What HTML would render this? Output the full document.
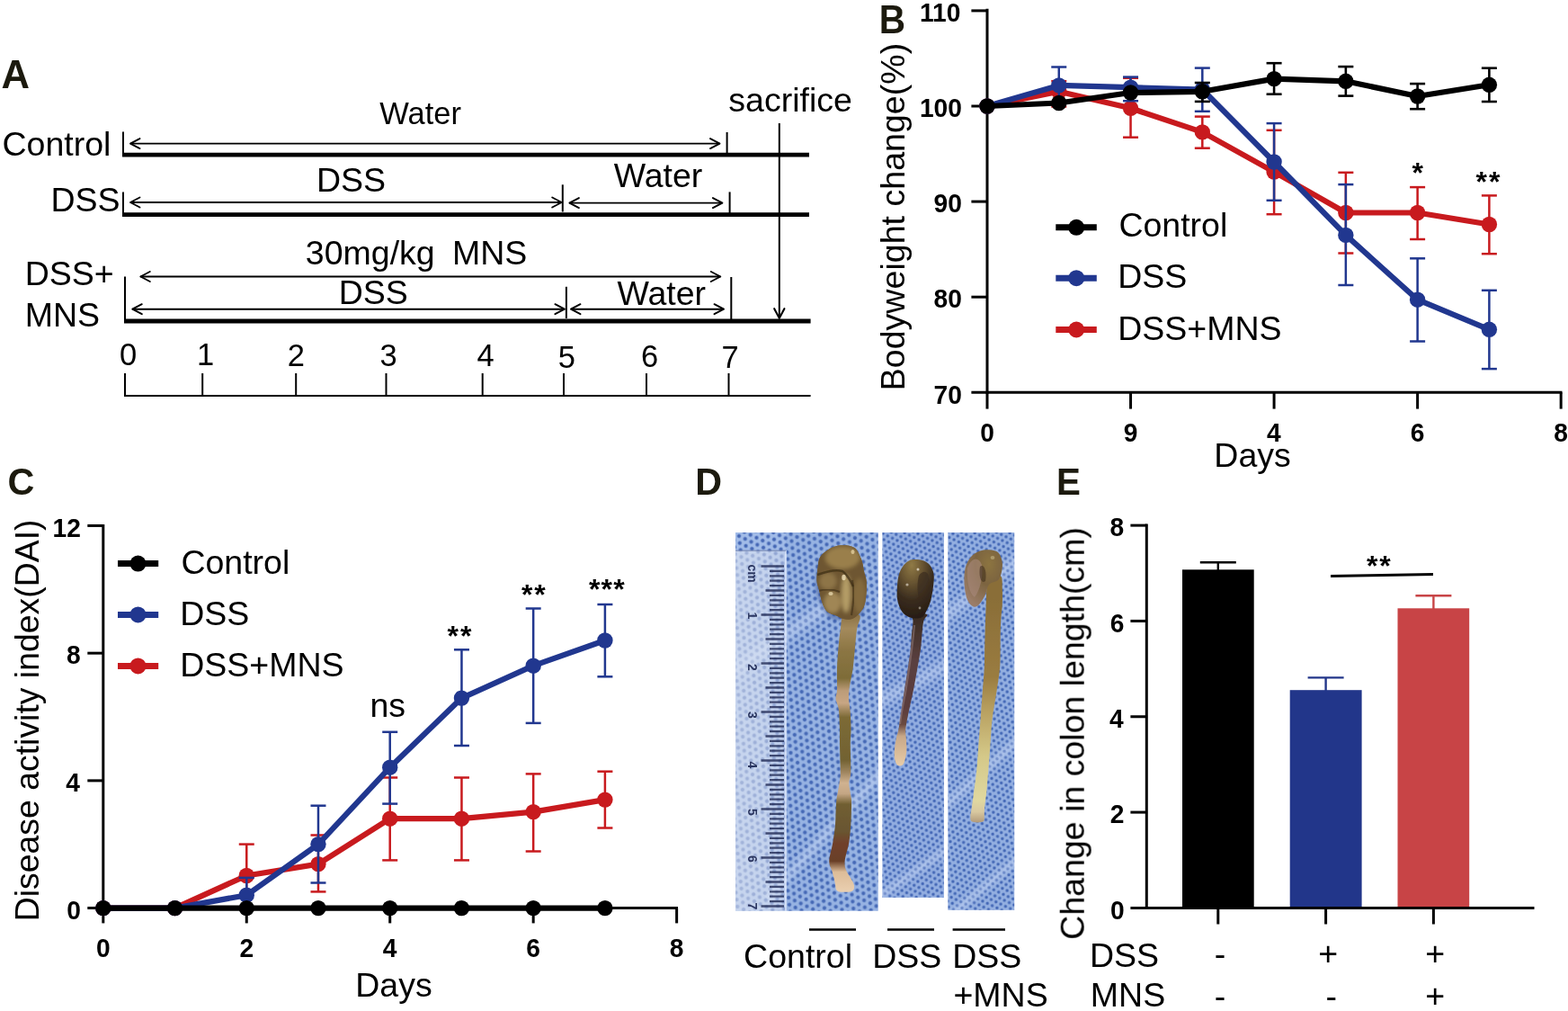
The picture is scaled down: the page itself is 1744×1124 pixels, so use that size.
<!DOCTYPE html>
<html><head><meta charset="utf-8"><title>Figure</title>
<style>html,body{margin:0;padding:0;background:#fff;}svg{display:block;}text{font-family:'Liberation Sans', Arial, sans-serif;}</style>
</head><body>
<svg width="1744" height="1124" viewBox="0 0 1744 1124">
<rect width="1744" height="1124" fill="#fff"/>
<text x="1.61" y="97.70" font-size="43.6" font-weight="bold" fill="#1c1a0e">A</text>
<text x="2.50" y="172.50" font-size="37.5" fill="#000">Control</text>
<line x1="137.00" y1="146.50" x2="137.00" y2="172.00" stroke="#000" stroke-width="2" stroke-linecap="butt"/>
<line x1="145.00" y1="159.60" x2="800.50" y2="159.60" stroke="#000" stroke-width="1.9" stroke-linecap="butt"/>
<path d="M155.50,154.10 L145.00,159.60 L155.50,165.10" stroke="#000" stroke-width="1.9" fill="none" stroke-linejoin="round" stroke-linecap="round"/>
<path d="M790.00,154.10 L800.50,159.60 L790.00,165.10" stroke="#000" stroke-width="1.9" fill="none" stroke-linejoin="round" stroke-linecap="round"/>
<line x1="808.60" y1="147.00" x2="808.60" y2="172.00" stroke="#000" stroke-width="2" stroke-linecap="butt"/>
<line x1="136.00" y1="172.20" x2="900.00" y2="172.20" stroke="#000" stroke-width="4.8" stroke-linecap="butt"/>
<text x="422.25" y="137.80" font-size="34.5" fill="#000">Water</text>
<text x="810.36" y="123.60" font-size="37.5" fill="#000">sacrifice</text>
<line x1="866.80" y1="137.00" x2="866.80" y2="353.00" stroke="#000" stroke-width="2" stroke-linecap="butt"/>
<path d="M861.2,343.2 L866.8,353.8 L872.4,343.2" stroke="#000" stroke-width="2.1" fill="none" stroke-linejoin="round" stroke-linecap="round"/>
<text x="56.52" y="235.20" font-size="37.5" fill="#000">DSS</text>
<line x1="137.00" y1="213.50" x2="137.00" y2="238.00" stroke="#000" stroke-width="2" stroke-linecap="butt"/>
<line x1="145.00" y1="225.00" x2="624.70" y2="225.00" stroke="#000" stroke-width="1.9" stroke-linecap="butt"/>
<path d="M155.50,219.50 L145.00,225.00 L155.50,230.50" stroke="#000" stroke-width="1.9" fill="none" stroke-linejoin="round" stroke-linecap="round"/>
<path d="M614.20,219.50 L624.70,225.00 L614.20,230.50" stroke="#000" stroke-width="1.9" fill="none" stroke-linejoin="round" stroke-linecap="round"/>
<line x1="625.80" y1="205.30" x2="625.80" y2="235.50" stroke="#000" stroke-width="2" stroke-linecap="butt"/>
<text x="351.92" y="212.60" font-size="37.5" fill="#000">DSS</text>
<line x1="633.40" y1="225.60" x2="803.40" y2="225.60" stroke="#000" stroke-width="1.9" stroke-linecap="butt"/>
<path d="M643.90,220.10 L633.40,225.60 L643.90,231.10" stroke="#000" stroke-width="1.9" fill="none" stroke-linejoin="round" stroke-linecap="round"/>
<path d="M792.90,220.10 L803.40,225.60 L792.90,231.10" stroke="#000" stroke-width="1.9" fill="none" stroke-linejoin="round" stroke-linecap="round"/>
<line x1="811.60" y1="213.40" x2="811.60" y2="237.00" stroke="#000" stroke-width="2" stroke-linecap="butt"/>
<text x="682.74" y="207.50" font-size="37.5" fill="#000">Water</text>
<line x1="136.00" y1="238.60" x2="900.00" y2="238.60" stroke="#000" stroke-width="4.8" stroke-linecap="butt"/>
<text x="27.72" y="317.40" font-size="37.5" fill="#000">DSS+</text>
<text x="27.72" y="362.90" font-size="37.5" fill="#000">MNS</text>
<line x1="139.00" y1="307.50" x2="139.00" y2="356.00" stroke="#000" stroke-width="2" stroke-linecap="butt"/>
<text x="339.87" y="293.50" font-size="37.5" fill="#000">30mg/kg</text>
<text x="502.92" y="294.40" font-size="37.5" fill="#000">MNS</text>
<line x1="156.30" y1="307.50" x2="801.30" y2="307.50" stroke="#000" stroke-width="1.9" stroke-linecap="butt"/>
<path d="M166.80,302.00 L156.30,307.50 L166.80,313.00" stroke="#000" stroke-width="1.9" fill="none" stroke-linejoin="round" stroke-linecap="round"/>
<path d="M790.80,302.00 L801.30,307.50 L790.80,313.00" stroke="#000" stroke-width="1.9" fill="none" stroke-linejoin="round" stroke-linecap="round"/>
<line x1="813.30" y1="308.00" x2="813.30" y2="355.00" stroke="#000" stroke-width="2" stroke-linecap="butt"/>
<line x1="147.30" y1="343.70" x2="627.90" y2="343.70" stroke="#000" stroke-width="1.9" stroke-linecap="butt"/>
<path d="M157.80,338.20 L147.30,343.70 L157.80,349.20" stroke="#000" stroke-width="1.9" fill="none" stroke-linejoin="round" stroke-linecap="round"/>
<path d="M617.40,338.20 L627.90,343.70 L617.40,349.20" stroke="#000" stroke-width="1.9" fill="none" stroke-linejoin="round" stroke-linecap="round"/>
<line x1="629.90" y1="318.80" x2="629.90" y2="354.00" stroke="#000" stroke-width="2" stroke-linecap="butt"/>
<text x="376.72" y="337.50" font-size="37.5" fill="#000">DSS</text>
<line x1="635.00" y1="343.70" x2="805.00" y2="343.70" stroke="#000" stroke-width="1.9" stroke-linecap="butt"/>
<path d="M645.50,338.20 L635.00,343.70 L645.50,349.20" stroke="#000" stroke-width="1.9" fill="none" stroke-linejoin="round" stroke-linecap="round"/>
<path d="M794.50,338.20 L805.00,343.70 L794.50,349.20" stroke="#000" stroke-width="1.9" fill="none" stroke-linejoin="round" stroke-linecap="round"/>
<text x="686.44" y="338.90" font-size="37.5" fill="#000">Water</text>
<line x1="138.00" y1="357.00" x2="901.60" y2="357.00" stroke="#000" stroke-width="4.8" stroke-linecap="butt"/>
<text x="132.95" y="405.80" font-size="34.5" fill="#000">0</text>
<text x="218.97" y="406.00" font-size="34.5" fill="#000">1</text>
<text x="319.76" y="406.50" font-size="34.5" fill="#000">2</text>
<text x="422.59" y="407.00" font-size="34.5" fill="#000">3</text>
<text x="530.41" y="407.00" font-size="34.5" fill="#000">4</text>
<text x="620.72" y="408.50" font-size="34.5" fill="#000">5</text>
<text x="712.95" y="408.00" font-size="34.5" fill="#000">6</text>
<text x="802.43" y="409.00" font-size="34.5" fill="#000">7</text>
<line x1="138.00" y1="440.00" x2="901.60" y2="440.00" stroke="#000" stroke-width="2" stroke-linecap="butt"/>
<line x1="139.00" y1="415.00" x2="139.00" y2="440.00" stroke="#000" stroke-width="2" stroke-linecap="butt"/>
<line x1="225.20" y1="415.00" x2="225.20" y2="440.00" stroke="#000" stroke-width="2" stroke-linecap="butt"/>
<line x1="329.20" y1="415.00" x2="329.20" y2="440.00" stroke="#000" stroke-width="2" stroke-linecap="butt"/>
<line x1="429.50" y1="415.00" x2="429.50" y2="440.00" stroke="#000" stroke-width="2" stroke-linecap="butt"/>
<line x1="536.70" y1="415.00" x2="536.70" y2="440.00" stroke="#000" stroke-width="2" stroke-linecap="butt"/>
<line x1="627.00" y1="415.00" x2="627.00" y2="440.00" stroke="#000" stroke-width="2" stroke-linecap="butt"/>
<line x1="719.00" y1="415.00" x2="719.00" y2="440.00" stroke="#000" stroke-width="2" stroke-linecap="butt"/>
<line x1="810.50" y1="415.00" x2="810.50" y2="440.00" stroke="#000" stroke-width="2" stroke-linecap="butt"/>
<text transform="translate(977.69,37.00) scale(0.93,1)" x="0" y="0" font-size="43.6" font-weight="bold" fill="#1c1a0e">B</text>
<line x1="1098.00" y1="9.80" x2="1098.00" y2="437.80" stroke="#000" stroke-width="3" stroke-linecap="butt"/>
<line x1="1080.40" y1="436.30" x2="1737.50" y2="436.30" stroke="#000" stroke-width="3" stroke-linecap="butt"/>
<line x1="1080.40" y1="11.90" x2="1098.00" y2="11.90" stroke="#000" stroke-width="3" stroke-linecap="butt"/>
<line x1="1080.40" y1="118.00" x2="1098.00" y2="118.00" stroke="#000" stroke-width="3" stroke-linecap="butt"/>
<line x1="1080.40" y1="224.10" x2="1098.00" y2="224.10" stroke="#000" stroke-width="3" stroke-linecap="butt"/>
<line x1="1080.40" y1="330.20" x2="1098.00" y2="330.20" stroke="#000" stroke-width="3" stroke-linecap="butt"/>
<line x1="1098.00" y1="436.30" x2="1098.00" y2="454.60" stroke="#000" stroke-width="3" stroke-linecap="butt"/>
<line x1="1257.54" y1="436.30" x2="1257.54" y2="454.60" stroke="#000" stroke-width="3" stroke-linecap="butt"/>
<line x1="1417.08" y1="436.30" x2="1417.08" y2="454.60" stroke="#000" stroke-width="3" stroke-linecap="butt"/>
<line x1="1576.62" y1="436.30" x2="1576.62" y2="454.60" stroke="#000" stroke-width="3" stroke-linecap="butt"/>
<line x1="1736.16" y1="436.30" x2="1736.16" y2="454.60" stroke="#000" stroke-width="3" stroke-linecap="butt"/>
<text transform="translate(1022.95,24.10) scale(0.955,1)" x="0" y="0" font-size="29.5" font-weight="bold" fill="#000">110</text>
<text transform="translate(1022.95,130.20) scale(0.955,1)" x="0" y="0" font-size="29.5" font-weight="bold" fill="#000">100</text>
<text transform="translate(1038.62,236.30) scale(0.955,1)" x="0" y="0" font-size="29.5" font-weight="bold" fill="#000">90</text>
<text transform="translate(1038.62,342.40) scale(0.955,1)" x="0" y="0" font-size="29.5" font-weight="bold" fill="#000">80</text>
<text transform="translate(1038.62,448.50) scale(0.955,1)" x="0" y="0" font-size="29.5" font-weight="bold" fill="#000">70</text>
<text transform="translate(1090.19,490.50) scale(0.955,1)" x="0" y="0" font-size="29.5" font-weight="bold" fill="#000">0</text>
<text transform="translate(1249.74,490.50) scale(0.955,1)" x="0" y="0" font-size="29.5" font-weight="bold" fill="#000">9</text>
<text transform="translate(1409.11,490.50) scale(0.955,1)" x="0" y="0" font-size="29.5" font-weight="bold" fill="#000">4</text>
<text transform="translate(1568.78,490.50) scale(0.955,1)" x="0" y="0" font-size="29.5" font-weight="bold" fill="#000">6</text>
<text transform="translate(1728.31,490.50) scale(0.955,1)" x="0" y="0" font-size="29.5" font-weight="bold" fill="#000">8</text>
<text x="1350.32" y="518.50" font-size="37.5" fill="#000">Days</text>
<text transform="translate(1006.20,431.20) rotate(-90)" x="-3.08" y="0" font-size="37.6" fill="#000">Bodyweight change(%)</text>
<line x1="1177.77" y1="90.20" x2="1177.77" y2="118.50" stroke="#c81a1e" stroke-width="2.5" stroke-linecap="butt"/>
<line x1="1169.27" y1="90.20" x2="1186.27" y2="90.20" stroke="#c81a1e" stroke-width="2.5" stroke-linecap="butt"/>
<line x1="1169.27" y1="118.50" x2="1186.27" y2="118.50" stroke="#c81a1e" stroke-width="2.5" stroke-linecap="butt"/>
<line x1="1257.54" y1="86.80" x2="1257.54" y2="152.70" stroke="#c81a1e" stroke-width="2.5" stroke-linecap="butt"/>
<line x1="1249.04" y1="86.80" x2="1266.04" y2="86.80" stroke="#c81a1e" stroke-width="2.5" stroke-linecap="butt"/>
<line x1="1249.04" y1="152.70" x2="1266.04" y2="152.70" stroke="#c81a1e" stroke-width="2.5" stroke-linecap="butt"/>
<line x1="1337.31" y1="129.60" x2="1337.31" y2="164.70" stroke="#c81a1e" stroke-width="2.5" stroke-linecap="butt"/>
<line x1="1328.81" y1="129.60" x2="1345.81" y2="129.60" stroke="#c81a1e" stroke-width="2.5" stroke-linecap="butt"/>
<line x1="1328.81" y1="164.70" x2="1345.81" y2="164.70" stroke="#c81a1e" stroke-width="2.5" stroke-linecap="butt"/>
<line x1="1417.08" y1="144.80" x2="1417.08" y2="238.20" stroke="#c81a1e" stroke-width="2.5" stroke-linecap="butt"/>
<line x1="1408.58" y1="144.80" x2="1425.58" y2="144.80" stroke="#c81a1e" stroke-width="2.5" stroke-linecap="butt"/>
<line x1="1408.58" y1="238.20" x2="1425.58" y2="238.20" stroke="#c81a1e" stroke-width="2.5" stroke-linecap="butt"/>
<line x1="1496.85" y1="191.80" x2="1496.85" y2="281.50" stroke="#c81a1e" stroke-width="2.5" stroke-linecap="butt"/>
<line x1="1488.35" y1="191.80" x2="1505.35" y2="191.80" stroke="#c81a1e" stroke-width="2.5" stroke-linecap="butt"/>
<line x1="1488.35" y1="281.50" x2="1505.35" y2="281.50" stroke="#c81a1e" stroke-width="2.5" stroke-linecap="butt"/>
<line x1="1576.62" y1="208.10" x2="1576.62" y2="266.00" stroke="#c81a1e" stroke-width="2.5" stroke-linecap="butt"/>
<line x1="1568.12" y1="208.10" x2="1585.12" y2="208.10" stroke="#c81a1e" stroke-width="2.5" stroke-linecap="butt"/>
<line x1="1568.12" y1="266.00" x2="1585.12" y2="266.00" stroke="#c81a1e" stroke-width="2.5" stroke-linecap="butt"/>
<line x1="1656.39" y1="217.40" x2="1656.39" y2="282.20" stroke="#c81a1e" stroke-width="2.5" stroke-linecap="butt"/>
<line x1="1647.89" y1="217.40" x2="1664.89" y2="217.40" stroke="#c81a1e" stroke-width="2.5" stroke-linecap="butt"/>
<line x1="1647.89" y1="282.20" x2="1664.89" y2="282.20" stroke="#c81a1e" stroke-width="2.5" stroke-linecap="butt"/>
<path d="M1098.00,118.00 L1177.77,101.80 L1257.54,120.30 L1337.31,146.90 L1417.08,191.10 L1496.85,236.50 L1576.62,236.50 L1656.39,249.50" stroke="#c81a1e" stroke-width="6.2" fill="none" stroke-linejoin="round"/>
<circle cx="1098.00" cy="118.00" r="8.7" fill="#c81a1e"/>
<circle cx="1177.77" cy="101.80" r="8.7" fill="#c81a1e"/>
<circle cx="1257.54" cy="120.30" r="8.7" fill="#c81a1e"/>
<circle cx="1337.31" cy="146.90" r="8.7" fill="#c81a1e"/>
<circle cx="1417.08" cy="191.10" r="8.7" fill="#c81a1e"/>
<circle cx="1496.85" cy="236.50" r="8.7" fill="#c81a1e"/>
<circle cx="1576.62" cy="236.50" r="8.7" fill="#c81a1e"/>
<circle cx="1656.39" cy="249.50" r="8.7" fill="#c81a1e"/>
<line x1="1177.77" y1="74.50" x2="1177.77" y2="115.00" stroke="#21378f" stroke-width="2.5" stroke-linecap="butt"/>
<line x1="1169.27" y1="74.50" x2="1186.27" y2="74.50" stroke="#21378f" stroke-width="2.5" stroke-linecap="butt"/>
<line x1="1169.27" y1="115.00" x2="1186.27" y2="115.00" stroke="#21378f" stroke-width="2.5" stroke-linecap="butt"/>
<line x1="1257.54" y1="85.60" x2="1257.54" y2="112.20" stroke="#21378f" stroke-width="2.5" stroke-linecap="butt"/>
<line x1="1249.04" y1="85.60" x2="1266.04" y2="85.60" stroke="#21378f" stroke-width="2.5" stroke-linecap="butt"/>
<line x1="1249.04" y1="112.20" x2="1266.04" y2="112.20" stroke="#21378f" stroke-width="2.5" stroke-linecap="butt"/>
<line x1="1337.31" y1="75.60" x2="1337.31" y2="123.80" stroke="#21378f" stroke-width="2.5" stroke-linecap="butt"/>
<line x1="1328.81" y1="75.60" x2="1345.81" y2="75.60" stroke="#21378f" stroke-width="2.5" stroke-linecap="butt"/>
<line x1="1328.81" y1="123.80" x2="1345.81" y2="123.80" stroke="#21378f" stroke-width="2.5" stroke-linecap="butt"/>
<line x1="1417.08" y1="137.10" x2="1417.08" y2="222.80" stroke="#21378f" stroke-width="2.5" stroke-linecap="butt"/>
<line x1="1408.58" y1="137.10" x2="1425.58" y2="137.10" stroke="#21378f" stroke-width="2.5" stroke-linecap="butt"/>
<line x1="1408.58" y1="222.80" x2="1425.58" y2="222.80" stroke="#21378f" stroke-width="2.5" stroke-linecap="butt"/>
<line x1="1496.85" y1="205.10" x2="1496.85" y2="317.00" stroke="#21378f" stroke-width="2.5" stroke-linecap="butt"/>
<line x1="1488.35" y1="205.10" x2="1505.35" y2="205.10" stroke="#21378f" stroke-width="2.5" stroke-linecap="butt"/>
<line x1="1488.35" y1="317.00" x2="1505.35" y2="317.00" stroke="#21378f" stroke-width="2.5" stroke-linecap="butt"/>
<line x1="1576.62" y1="287.30" x2="1576.62" y2="379.50" stroke="#21378f" stroke-width="2.5" stroke-linecap="butt"/>
<line x1="1568.12" y1="287.30" x2="1585.12" y2="287.30" stroke="#21378f" stroke-width="2.5" stroke-linecap="butt"/>
<line x1="1568.12" y1="379.50" x2="1585.12" y2="379.50" stroke="#21378f" stroke-width="2.5" stroke-linecap="butt"/>
<line x1="1656.39" y1="322.80" x2="1656.39" y2="410.10" stroke="#21378f" stroke-width="2.5" stroke-linecap="butt"/>
<line x1="1647.89" y1="322.80" x2="1664.89" y2="322.80" stroke="#21378f" stroke-width="2.5" stroke-linecap="butt"/>
<line x1="1647.89" y1="410.10" x2="1664.89" y2="410.10" stroke="#21378f" stroke-width="2.5" stroke-linecap="butt"/>
<path d="M1098.00,118.00 L1177.77,94.90 L1257.54,97.20 L1337.31,99.50 L1417.08,180.00 L1496.85,261.40 L1576.62,333.20 L1656.39,366.30" stroke="#21378f" stroke-width="6.2" fill="none" stroke-linejoin="round"/>
<circle cx="1098.00" cy="118.00" r="8.7" fill="#21378f"/>
<circle cx="1177.77" cy="94.90" r="8.7" fill="#21378f"/>
<circle cx="1257.54" cy="97.20" r="8.7" fill="#21378f"/>
<circle cx="1337.31" cy="99.50" r="8.7" fill="#21378f"/>
<circle cx="1417.08" cy="180.00" r="8.7" fill="#21378f"/>
<circle cx="1496.85" cy="261.40" r="8.7" fill="#21378f"/>
<circle cx="1576.62" cy="333.20" r="8.7" fill="#21378f"/>
<circle cx="1656.39" cy="366.30" r="8.7" fill="#21378f"/>
<line x1="1337.31" y1="92.00" x2="1337.31" y2="112.90" stroke="#000" stroke-width="2.6" stroke-linecap="butt"/>
<line x1="1328.81" y1="92.00" x2="1345.81" y2="92.00" stroke="#000" stroke-width="2.6" stroke-linecap="butt"/>
<line x1="1328.81" y1="112.90" x2="1345.81" y2="112.90" stroke="#000" stroke-width="2.6" stroke-linecap="butt"/>
<line x1="1417.08" y1="70.20" x2="1417.08" y2="104.70" stroke="#000" stroke-width="2.6" stroke-linecap="butt"/>
<line x1="1408.58" y1="70.20" x2="1425.58" y2="70.20" stroke="#000" stroke-width="2.6" stroke-linecap="butt"/>
<line x1="1408.58" y1="104.70" x2="1425.58" y2="104.70" stroke="#000" stroke-width="2.6" stroke-linecap="butt"/>
<line x1="1496.85" y1="74.10" x2="1496.85" y2="106.60" stroke="#000" stroke-width="2.6" stroke-linecap="butt"/>
<line x1="1488.35" y1="74.10" x2="1505.35" y2="74.10" stroke="#000" stroke-width="2.6" stroke-linecap="butt"/>
<line x1="1488.35" y1="106.60" x2="1505.35" y2="106.60" stroke="#000" stroke-width="2.6" stroke-linecap="butt"/>
<line x1="1576.62" y1="93.10" x2="1576.62" y2="121.20" stroke="#000" stroke-width="2.6" stroke-linecap="butt"/>
<line x1="1568.12" y1="93.10" x2="1585.12" y2="93.10" stroke="#000" stroke-width="2.6" stroke-linecap="butt"/>
<line x1="1568.12" y1="121.20" x2="1585.12" y2="121.20" stroke="#000" stroke-width="2.6" stroke-linecap="butt"/>
<line x1="1656.39" y1="75.70" x2="1656.39" y2="113.00" stroke="#000" stroke-width="2.6" stroke-linecap="butt"/>
<line x1="1647.89" y1="75.70" x2="1664.89" y2="75.70" stroke="#000" stroke-width="2.6" stroke-linecap="butt"/>
<line x1="1647.89" y1="113.00" x2="1664.89" y2="113.00" stroke="#000" stroke-width="2.6" stroke-linecap="butt"/>
<path d="M1098.00,118.00 L1177.77,114.50 L1257.54,103.00 L1337.31,101.80 L1417.08,87.60 L1496.85,90.30 L1576.62,107.00 L1656.39,94.30" stroke="#000" stroke-width="6.2" fill="none" stroke-linejoin="round"/>
<circle cx="1098.00" cy="118.00" r="8.7" fill="#000"/>
<circle cx="1177.77" cy="114.50" r="8.7" fill="#000"/>
<circle cx="1257.54" cy="103.00" r="8.7" fill="#000"/>
<circle cx="1337.31" cy="101.80" r="8.7" fill="#000"/>
<circle cx="1417.08" cy="87.60" r="8.7" fill="#000"/>
<circle cx="1496.85" cy="90.30" r="8.7" fill="#000"/>
<circle cx="1576.62" cy="107.00" r="8.7" fill="#000"/>
<circle cx="1656.39" cy="94.30" r="8.7" fill="#000"/>
<line x1="1174.30" y1="252.80" x2="1219.80" y2="252.80" stroke="#000" stroke-width="7" stroke-linecap="butt"/>
<circle cx="1197.20" cy="252.80" r="9" fill="#000"/>
<text x="1244.40" y="263.10" font-size="37.5" fill="#000">Control</text>
<line x1="1174.30" y1="309.20" x2="1219.80" y2="309.20" stroke="#21378f" stroke-width="7" stroke-linecap="butt"/>
<circle cx="1197.20" cy="309.20" r="9" fill="#21378f"/>
<text x="1243.22" y="320.40" font-size="37.5" fill="#000">DSS</text>
<line x1="1174.30" y1="366.50" x2="1219.80" y2="366.50" stroke="#c81a1e" stroke-width="7" stroke-linecap="butt"/>
<circle cx="1197.20" cy="366.50" r="9" fill="#c81a1e"/>
<text x="1243.22" y="377.60" font-size="37.5" fill="#000">DSS+MNS</text>
<text x="1570.44" y="202.70" font-size="32" font-weight="bold" fill="#000">*</text>
<text x="1641.52" y="213.00" font-size="32" font-weight="bold" fill="#000" letter-spacing="2">**</text>
<text transform="translate(8.60,549.60) scale(0.98,1)" x="0" y="0" font-size="42.2" font-weight="bold" fill="#1c1a0e">C</text>
<line x1="114.80" y1="583.00" x2="114.80" y2="1011.00" stroke="#000" stroke-width="3" stroke-linecap="butt"/>
<line x1="97.30" y1="1009.60" x2="754.00" y2="1009.60" stroke="#000" stroke-width="3" stroke-linecap="butt"/>
<line x1="97.30" y1="584.44" x2="114.80" y2="584.44" stroke="#000" stroke-width="3" stroke-linecap="butt"/>
<line x1="97.30" y1="726.16" x2="114.80" y2="726.16" stroke="#000" stroke-width="3" stroke-linecap="butt"/>
<line x1="97.30" y1="867.88" x2="114.80" y2="867.88" stroke="#000" stroke-width="3" stroke-linecap="butt"/>
<line x1="114.80" y1="1009.60" x2="114.80" y2="1026.40" stroke="#000" stroke-width="3" stroke-linecap="butt"/>
<line x1="274.26" y1="1009.60" x2="274.26" y2="1026.40" stroke="#000" stroke-width="3" stroke-linecap="butt"/>
<line x1="433.72" y1="1009.60" x2="433.72" y2="1026.40" stroke="#000" stroke-width="3" stroke-linecap="butt"/>
<line x1="593.18" y1="1009.60" x2="593.18" y2="1026.40" stroke="#000" stroke-width="3" stroke-linecap="butt"/>
<line x1="752.64" y1="1009.60" x2="752.64" y2="1026.40" stroke="#000" stroke-width="3" stroke-linecap="butt"/>
<text transform="translate(58.59,596.64) scale(0.955,1)" x="0" y="0" font-size="29.5" font-weight="bold" fill="#000">12</text>
<text transform="translate(74.00,738.36) scale(0.955,1)" x="0" y="0" font-size="29.5" font-weight="bold" fill="#000">8</text>
<text transform="translate(73.28,880.08) scale(0.955,1)" x="0" y="0" font-size="29.5" font-weight="bold" fill="#000">4</text>
<text transform="translate(74.29,1021.80) scale(0.955,1)" x="0" y="0" font-size="29.5" font-weight="bold" fill="#000">0</text>
<text transform="translate(106.99,1063.50) scale(0.955,1)" x="0" y="0" font-size="29.5" font-weight="bold" fill="#000">0</text>
<text transform="translate(266.50,1063.50) scale(0.955,1)" x="0" y="0" font-size="29.5" font-weight="bold" fill="#000">2</text>
<text transform="translate(425.75,1063.50) scale(0.955,1)" x="0" y="0" font-size="29.5" font-weight="bold" fill="#000">4</text>
<text transform="translate(585.34,1063.50) scale(0.955,1)" x="0" y="0" font-size="29.5" font-weight="bold" fill="#000">6</text>
<text transform="translate(744.79,1063.50) scale(0.955,1)" x="0" y="0" font-size="29.5" font-weight="bold" fill="#000">8</text>
<text x="395.22" y="1108.00" font-size="37.5" fill="#000">Days</text>
<text transform="translate(43.00,1021.20) rotate(-90)" x="-3.07" y="0" font-size="37.4" fill="#000">Disease activity index(DAI)</text>
<line x1="274.26" y1="938.60" x2="274.26" y2="1009.60" stroke="#c81a1e" stroke-width="2.5" stroke-linecap="butt"/>
<line x1="265.76" y1="938.60" x2="282.76" y2="938.60" stroke="#c81a1e" stroke-width="2.5" stroke-linecap="butt"/>
<line x1="265.76" y1="1009.60" x2="282.76" y2="1009.60" stroke="#c81a1e" stroke-width="2.5" stroke-linecap="butt"/>
<line x1="353.99" y1="928.50" x2="353.99" y2="991.40" stroke="#c81a1e" stroke-width="2.5" stroke-linecap="butt"/>
<line x1="345.49" y1="928.50" x2="362.49" y2="928.50" stroke="#c81a1e" stroke-width="2.5" stroke-linecap="butt"/>
<line x1="345.49" y1="991.40" x2="362.49" y2="991.40" stroke="#c81a1e" stroke-width="2.5" stroke-linecap="butt"/>
<line x1="433.72" y1="864.50" x2="433.72" y2="956.40" stroke="#c81a1e" stroke-width="2.5" stroke-linecap="butt"/>
<line x1="425.22" y1="864.50" x2="442.22" y2="864.50" stroke="#c81a1e" stroke-width="2.5" stroke-linecap="butt"/>
<line x1="425.22" y1="956.40" x2="442.22" y2="956.40" stroke="#c81a1e" stroke-width="2.5" stroke-linecap="butt"/>
<line x1="513.45" y1="864.50" x2="513.45" y2="956.40" stroke="#c81a1e" stroke-width="2.5" stroke-linecap="butt"/>
<line x1="504.95" y1="864.50" x2="521.95" y2="864.50" stroke="#c81a1e" stroke-width="2.5" stroke-linecap="butt"/>
<line x1="504.95" y1="956.40" x2="521.95" y2="956.40" stroke="#c81a1e" stroke-width="2.5" stroke-linecap="butt"/>
<line x1="593.18" y1="860.40" x2="593.18" y2="946.50" stroke="#c81a1e" stroke-width="2.5" stroke-linecap="butt"/>
<line x1="584.68" y1="860.40" x2="601.68" y2="860.40" stroke="#c81a1e" stroke-width="2.5" stroke-linecap="butt"/>
<line x1="584.68" y1="946.50" x2="601.68" y2="946.50" stroke="#c81a1e" stroke-width="2.5" stroke-linecap="butt"/>
<line x1="672.91" y1="857.70" x2="672.91" y2="920.50" stroke="#c81a1e" stroke-width="2.5" stroke-linecap="butt"/>
<line x1="664.41" y1="857.70" x2="681.41" y2="857.70" stroke="#c81a1e" stroke-width="2.5" stroke-linecap="butt"/>
<line x1="664.41" y1="920.50" x2="681.41" y2="920.50" stroke="#c81a1e" stroke-width="2.5" stroke-linecap="butt"/>
<path d="M114.80,1009.60 L194.53,1009.60 L274.26,973.50 L353.99,960.60 L433.72,910.20 L513.45,910.20 L593.18,902.60 L672.91,889.10" stroke="#c81a1e" stroke-width="6.2" fill="none" stroke-linejoin="round"/>
<circle cx="114.80" cy="1009.60" r="8.7" fill="#c81a1e"/>
<circle cx="194.53" cy="1009.60" r="8.7" fill="#c81a1e"/>
<circle cx="274.26" cy="973.50" r="8.7" fill="#c81a1e"/>
<circle cx="353.99" cy="960.60" r="8.7" fill="#c81a1e"/>
<circle cx="433.72" cy="910.20" r="8.7" fill="#c81a1e"/>
<circle cx="513.45" cy="910.20" r="8.7" fill="#c81a1e"/>
<circle cx="593.18" cy="902.60" r="8.7" fill="#c81a1e"/>
<circle cx="672.91" cy="889.10" r="8.7" fill="#c81a1e"/>
<line x1="274.26" y1="975.90" x2="274.26" y2="1009.60" stroke="#21378f" stroke-width="2.5" stroke-linecap="butt"/>
<line x1="265.76" y1="975.90" x2="282.76" y2="975.90" stroke="#21378f" stroke-width="2.5" stroke-linecap="butt"/>
<line x1="265.76" y1="1009.60" x2="282.76" y2="1009.60" stroke="#21378f" stroke-width="2.5" stroke-linecap="butt"/>
<line x1="353.99" y1="895.70" x2="353.99" y2="981.50" stroke="#21378f" stroke-width="2.5" stroke-linecap="butt"/>
<line x1="345.49" y1="895.70" x2="362.49" y2="895.70" stroke="#21378f" stroke-width="2.5" stroke-linecap="butt"/>
<line x1="345.49" y1="981.50" x2="362.49" y2="981.50" stroke="#21378f" stroke-width="2.5" stroke-linecap="butt"/>
<line x1="433.72" y1="813.80" x2="433.72" y2="893.60" stroke="#21378f" stroke-width="2.5" stroke-linecap="butt"/>
<line x1="425.22" y1="813.80" x2="442.22" y2="813.80" stroke="#21378f" stroke-width="2.5" stroke-linecap="butt"/>
<line x1="425.22" y1="893.60" x2="442.22" y2="893.60" stroke="#21378f" stroke-width="2.5" stroke-linecap="butt"/>
<line x1="513.45" y1="722.30" x2="513.45" y2="829.00" stroke="#21378f" stroke-width="2.5" stroke-linecap="butt"/>
<line x1="504.95" y1="722.30" x2="521.95" y2="722.30" stroke="#21378f" stroke-width="2.5" stroke-linecap="butt"/>
<line x1="504.95" y1="829.00" x2="521.95" y2="829.00" stroke="#21378f" stroke-width="2.5" stroke-linecap="butt"/>
<line x1="593.18" y1="676.50" x2="593.18" y2="803.90" stroke="#21378f" stroke-width="2.5" stroke-linecap="butt"/>
<line x1="584.68" y1="676.50" x2="601.68" y2="676.50" stroke="#21378f" stroke-width="2.5" stroke-linecap="butt"/>
<line x1="584.68" y1="803.90" x2="601.68" y2="803.90" stroke="#21378f" stroke-width="2.5" stroke-linecap="butt"/>
<line x1="672.91" y1="672.00" x2="672.91" y2="752.30" stroke="#21378f" stroke-width="2.5" stroke-linecap="butt"/>
<line x1="664.41" y1="672.00" x2="681.41" y2="672.00" stroke="#21378f" stroke-width="2.5" stroke-linecap="butt"/>
<line x1="664.41" y1="752.30" x2="681.41" y2="752.30" stroke="#21378f" stroke-width="2.5" stroke-linecap="butt"/>
<path d="M114.80,1009.60 L194.53,1009.60 L274.26,995.20 L353.99,938.60 L433.72,853.20 L513.45,776.10 L593.18,740.20 L672.91,712.00" stroke="#21378f" stroke-width="6.2" fill="none" stroke-linejoin="round"/>
<circle cx="114.80" cy="1009.60" r="8.7" fill="#21378f"/>
<circle cx="194.53" cy="1009.60" r="8.7" fill="#21378f"/>
<circle cx="274.26" cy="995.20" r="8.7" fill="#21378f"/>
<circle cx="353.99" cy="938.60" r="8.7" fill="#21378f"/>
<circle cx="433.72" cy="853.20" r="8.7" fill="#21378f"/>
<circle cx="513.45" cy="776.10" r="8.7" fill="#21378f"/>
<circle cx="593.18" cy="740.20" r="8.7" fill="#21378f"/>
<circle cx="672.91" cy="712.00" r="8.7" fill="#21378f"/>
<path d="M114.80,1009.60 L194.53,1009.60 L274.26,1009.60 L353.99,1009.60 L433.72,1009.60 L513.45,1009.60 L593.18,1009.60 L672.91,1009.60" stroke="#000" stroke-width="6.4" fill="none" stroke-linejoin="round"/>
<circle cx="114.80" cy="1009.60" r="8.7" fill="#000"/>
<circle cx="194.53" cy="1009.60" r="8.7" fill="#000"/>
<circle cx="274.26" cy="1009.60" r="8.7" fill="#000"/>
<circle cx="353.99" cy="1009.60" r="8.7" fill="#000"/>
<circle cx="433.72" cy="1009.60" r="8.7" fill="#000"/>
<circle cx="513.45" cy="1009.60" r="8.7" fill="#000"/>
<circle cx="593.18" cy="1009.60" r="8.7" fill="#000"/>
<circle cx="672.91" cy="1009.60" r="8.7" fill="#000"/>
<line x1="131.00" y1="626.60" x2="176.20" y2="626.60" stroke="#000" stroke-width="7" stroke-linecap="butt"/>
<circle cx="153.50" cy="626.60" r="9" fill="#000"/>
<text x="201.40" y="637.70" font-size="37.5" fill="#000">Control</text>
<line x1="131.00" y1="683.40" x2="176.20" y2="683.40" stroke="#21378f" stroke-width="7" stroke-linecap="butt"/>
<circle cx="153.50" cy="683.40" r="9" fill="#21378f"/>
<text x="200.22" y="694.50" font-size="37.5" fill="#000">DSS</text>
<line x1="131.00" y1="740.40" x2="176.20" y2="740.40" stroke="#c81a1e" stroke-width="7" stroke-linecap="butt"/>
<circle cx="153.50" cy="740.40" r="9" fill="#c81a1e"/>
<text x="200.22" y="751.70" font-size="37.5" fill="#000">DSS+MNS</text>
<text x="411.51" y="797.20" font-size="37.5" fill="#000">ns</text>
<text x="497.62" y="717.60" font-size="32" font-weight="bold" fill="#000" letter-spacing="2">**</text>
<text x="579.92" y="671.90" font-size="32" font-weight="bold" fill="#000" letter-spacing="2">**</text>
<text x="654.89" y="666.00" font-size="32" font-weight="bold" fill="#000" letter-spacing="1.2">***</text>
<text transform="translate(773.24,549.80) scale(0.96,1)" x="0" y="0" font-size="43" font-weight="bold" fill="#1c1a0e">D</text>
<defs>
<pattern id="fab" width="12.8" height="7.8" patternUnits="userSpaceOnUse" patternTransform="rotate(-6)">
<rect width="12.8" height="7.8" fill="#a2bce8"/>
<circle cx="0" cy="0" r="3.0" fill="url(#dot)"/><circle cx="12.8" cy="0" r="3.0" fill="url(#dot)"/>
<circle cx="0" cy="7.8" r="3.0" fill="url(#dot)"/><circle cx="12.8" cy="7.8" r="3.0" fill="url(#dot)"/>
<circle cx="6.4" cy="3.9" r="3.0" fill="url(#dot)"/>
</pattern>
<pattern id="fab2" width="9.6" height="6.8" patternUnits="userSpaceOnUse" patternTransform="rotate(-10)">
<rect width="9.6" height="6.8" fill="#a8c0ea"/>
<circle cx="0" cy="0" r="2.4" fill="url(#dot)"/><circle cx="9.6" cy="0" r="2.4" fill="url(#dot)"/>
<circle cx="0" cy="6.8" r="2.4" fill="url(#dot)"/><circle cx="9.6" cy="6.8" r="2.4" fill="url(#dot)"/>
<circle cx="4.8" cy="3.4" r="2.4" fill="url(#dot)"/>
</pattern>
<radialGradient id="dot"><stop offset="0" stop-color="#3c5eb0"/><stop offset="0.5" stop-color="#4e70ba"/><stop offset="1" stop-color="#7090d0" stop-opacity="0"/></radialGradient>
<filter id="pblur" x="0" y="0" width="100%" height="100%"><feGaussianBlur stdDeviation="0.55"/></filter>
<linearGradient id="fold" x1="0" y1="0" x2="1" y2="0"><stop offset="0" stop-color="#dfeaff" stop-opacity="0"/><stop offset="0.5" stop-color="#dfeaff" stop-opacity="0.45"/><stop offset="1" stop-color="#dfeaff" stop-opacity="0"/></linearGradient>
<filter id="soft" x="-20%" y="-20%" width="140%" height="140%"><feGaussianBlur stdDeviation="0.7"/></filter>
<filter id="soft2" x="-30%" y="-30%" width="160%" height="160%"><feGaussianBlur stdDeviation="1.6"/></filter>
<filter id="soft3" x="-30%" y="-30%" width="160%" height="160%"><feGaussianBlur stdDeviation="2.2"/></filter>
<clipPath id="cp1"><rect x="818" y="592" width="158.7" height="420.7"/></clipPath>
<clipPath id="cp2"><rect x="981.4" y="592" width="68.5" height="405.9"/></clipPath>
<clipPath id="cp3"><rect x="1054.4" y="592" width="73.8" height="419.8"/></clipPath>
<linearGradient id="c1g" x1="0" y1="600" x2="0" y2="995" gradientUnits="userSpaceOnUse">
<stop offset="0" stop-color="#8a7040"/><stop offset="0.21" stop-color="#8a7044"/>
<stop offset="0.25" stop-color="#a48a5c"/><stop offset="0.31" stop-color="#8c7644"/><stop offset="0.39" stop-color="#7e6c38"/>
<stop offset="0.425" stop-color="#bc9c78"/><stop offset="0.46" stop-color="#c8a684"/>
<stop offset="0.5" stop-color="#7c6a36"/><stop offset="0.62" stop-color="#726232"/>
<stop offset="0.655" stop-color="#a08660"/><stop offset="0.685" stop-color="#d0b290"/>
<stop offset="0.715" stop-color="#c4a684"/><stop offset="0.745" stop-color="#705e30"/>
<stop offset="0.82" stop-color="#6a5630"/><stop offset="0.855" stop-color="#70402c"/>
<stop offset="0.905" stop-color="#6a4028"/><stop offset="0.935" stop-color="#dcbc98"/>
<stop offset="1" stop-color="#ecd2b4"/></linearGradient>
<radialGradient id="h1g" cx="0.55" cy="0.4" r="0.65"><stop offset="0" stop-color="#9a8250"/><stop offset="0.7" stop-color="#876e42"/><stop offset="1" stop-color="#6c5632"/></radialGradient>
<linearGradient id="c2g" x1="0" y1="685" x2="0" y2="852" gradientUnits="userSpaceOnUse">
<stop offset="0" stop-color="#3a2c22"/><stop offset="0.3" stop-color="#5a4040"/>
<stop offset="0.6" stop-color="#5a3c3c"/><stop offset="0.72" stop-color="#6a4a40"/>
<stop offset="0.8" stop-color="#c8a888"/><stop offset="1" stop-color="#e8cca8"/></linearGradient>
<radialGradient id="h2g" cx="0.4" cy="0.1" r="0.95"><stop offset="0" stop-color="#907a46"/><stop offset="0.3" stop-color="#6a5632"/><stop offset="0.62" stop-color="#3a2c1e"/><stop offset="1" stop-color="#241a12"/></radialGradient>
<linearGradient id="c3g" x1="0" y1="665" x2="0" y2="915" gradientUnits="userSpaceOnUse">
<stop offset="0" stop-color="#8a6e38"/><stop offset="0.35" stop-color="#9a7c40"/>
<stop offset="0.5" stop-color="#b8a060"/><stop offset="0.7" stop-color="#d4c888"/>
<stop offset="0.9" stop-color="#e0d8a0"/><stop offset="0.95" stop-color="#d8c8a0"/><stop offset="1" stop-color="#b09878"/></linearGradient>
<radialGradient id="h3g" cx="0.65" cy="0.25" r="0.8"><stop offset="0" stop-color="#8c7440"/><stop offset="0.45" stop-color="#7c6440"/><stop offset="1" stop-color="#9a7c68"/></radialGradient>
<linearGradient id="rul" x1="0" y1="0" x2="1" y2="0"><stop offset="0" stop-color="#dfe5f2" stop-opacity="0.62"/><stop offset="0.6" stop-color="#e0e6f2" stop-opacity="0.55"/><stop offset="1" stop-color="#d0d8ec" stop-opacity="0.5"/></linearGradient>
</defs>
<g filter="url(#pblur)">
<rect x="818" y="592" width="158.7" height="420.7" fill="url(#fab)"/>
<rect x="874" y="592" width="102.7" height="420.7" fill="#4a70c0" opacity="0.12"/>
<rect x="981.4" y="592" width="68.5" height="405.9" fill="url(#fab2)"/>
<rect x="981.4" y="592" width="68.5" height="405.9" fill="#3a62b8" opacity="0.2"/>
<rect x="1054.4" y="592" width="73.8" height="419.8" fill="url(#fab2)"/>
<rect x="1054.4" y="592" width="73.8" height="419.8" fill="#3a62b8" opacity="0.18"/>
<g clip-path="url(#cp1)" opacity="0.75"><rect x="855" y="600" width="26" height="220" fill="url(#fold)" transform="rotate(55 868 710)"/><rect x="925" y="790" width="18" height="240" fill="url(#fold)" transform="rotate(42 934 910)"/></g>
<g clip-path="url(#cp2)" opacity="0.75"><rect x="1002" y="680" width="26" height="160" fill="url(#fold)" transform="rotate(62 1015 760)"/><rect x="1008" y="890" width="16" height="160" fill="url(#fold)" transform="rotate(55 1016 970)"/></g>
<g clip-path="url(#cp3)" opacity="0.75"><rect x="1078" y="580" width="24" height="150" fill="url(#fold)" transform="rotate(52 1090 655)"/><rect x="1082" y="750" width="18" height="220" fill="url(#fold)" transform="rotate(48 1091 860)"/><rect x="1082" y="870" width="16" height="240" fill="url(#fold)" transform="rotate(50 1090 990)"/></g>
<g clip-path="url(#cp1)">
<rect x="818" y="611.8" width="56" height="402" fill="url(#rul)"/>
<line x1="874" y1="612" x2="874" y2="1013" stroke="#e8f0ff" stroke-width="1.6" opacity="0.8"/>
<line x1="818" y1="612.3" x2="874" y2="612.3" stroke="#4a5c90" stroke-width="1.6" opacity="0.45"/>
<path d="M846.5,629.5H872 M856,634.9H872 M856,640.3H872 M856,645.7H872 M856,651.1H872 M851.5,656.5H872 M856,661.9H872 M856,667.3H872 M856,672.7H872 M856,678.1H872 M846.5,683.5H872 M856,688.9H872 M856,694.3H872 M856,699.7H872 M856,705.1H872 M851.5,710.5H872 M856,715.9H872 M856,721.3H872 M856,726.7H872 M856,732.1H872 M846.5,737.5H872 M856,742.9H872 M856,748.3H872 M856,753.7H872 M856,759.1H872 M851.5,764.5H872 M856,769.9H872 M856,775.3H872 M856,780.7H872 M856,786.1H872 M846.5,791.5H872 M856,796.9H872 M856,802.3H872 M856,807.7H872 M856,813.1H872 M851.5,818.5H872 M856,823.9H872 M856,829.3H872 M856,834.7H872 M856,840.1H872 M846.5,845.5H872 M856,850.9H872 M856,856.3H872 M856,861.7H872 M856,867.1H872 M851.5,872.5H872 M856,877.9H872 M856,883.3H872 M856,888.7H872 M856,894.1H872 M846.5,899.5H872 M856,904.9H872 M856,910.3H872 M856,915.7H872 M856,921.1H872 M851.5,926.5H872 M856,931.9H872 M856,937.3H872 M856,942.7H872 M856,948.1H872 M846.5,953.5H872 M856,958.9H872 M856,964.3H872 M856,969.7H872 M856,975.1H872 M851.5,980.5H872 M856,985.9H872 M856,991.3H872 M856,996.7H872 M856,1002.1H872 M846.5,1007.5H872" stroke="#1c2650" stroke-width="2.3" opacity="0.78"/>
</g>
<text transform="translate(831.5,637.5) rotate(90)" x="0" y="0" font-size="14" font-weight="bold" fill="#1c2652" text-anchor="middle" opacity="0.9">cm</text>
<text transform="translate(831.5,684.5) rotate(90)" x="0" y="0" font-size="14" font-weight="bold" fill="#1c2652" text-anchor="middle" opacity="0.9">1</text>
<text transform="translate(831.5,741.8) rotate(90)" x="0" y="0" font-size="14" font-weight="bold" fill="#1c2652" text-anchor="middle" opacity="0.9">2</text>
<text transform="translate(831.5,795.0) rotate(90)" x="0" y="0" font-size="14" font-weight="bold" fill="#1c2652" text-anchor="middle" opacity="0.9">3</text>
<text transform="translate(831.5,850.5) rotate(90)" x="0" y="0" font-size="14" font-weight="bold" fill="#1c2652" text-anchor="middle" opacity="0.9">4</text>
<text transform="translate(831.5,902.8) rotate(90)" x="0" y="0" font-size="14" font-weight="bold" fill="#1c2652" text-anchor="middle" opacity="0.9">5</text>
<text transform="translate(831.5,955.0) rotate(90)" x="0" y="0" font-size="14" font-weight="bold" fill="#1c2652" text-anchor="middle" opacity="0.9">6</text>
<text transform="translate(831.5,1007.4) rotate(90)" x="0" y="0" font-size="14" font-weight="bold" fill="#1c2652" text-anchor="middle" opacity="0.9">7</text>
<g filter="url(#soft2)" opacity="0.35">
<path d="M935.6,608.0 C940.3,608.0 947.1,608.3 951.0,611.0 C954.9,613.7 956.7,617.5 959.0,624.0 C961.3,630.5 964.3,642.0 965.0,650.0 C965.7,658.0 964.3,666.5 963.0,672.0 C961.7,677.5 962.5,680.7 957.0,683.0 C951.5,685.3 936.5,687.3 930.0,686.0 C923.5,684.7 921.3,680.0 918.0,675.0 C914.7,670.0 911.5,661.8 910.0,656.0 C908.5,650.2 908.5,646.0 909.0,640.0 C909.5,634.0 910.7,624.8 913.0,620.0 C915.3,615.2 919.2,613.0 923.0,611.0 C926.8,609.0 930.9,608.0 935.6,608.0Z" fill="#1e3478" transform="translate(-2,3)"/>
</g>
<g filter="url(#soft)">
<path d="M938.5,684.0 C935.0,686.7 935.8,694.0 934.8,700.0 C933.8,706.0 933.1,712.9 932.5,720.0 C931.9,727.1 931.2,736.0 931.0,742.7 C930.8,749.4 931.0,755.8 931.0,760.0 C931.0,764.2 931.2,765.2 931.0,768.0 C930.8,770.8 929.3,774.2 929.5,777.0 C929.7,779.8 931.4,782.4 932.0,785.0 C932.6,787.6 932.9,788.2 933.2,792.4 C933.5,796.6 933.9,804.6 934.0,810.0 C934.1,815.4 934.0,820.0 934.0,825.0 C934.0,830.0 934.2,834.2 934.3,840.0 C934.4,845.8 934.9,855.0 934.8,860.0 C934.7,865.0 934.2,866.7 933.7,870.0 C933.2,873.3 932.6,876.7 932.0,880.0 C931.4,883.3 930.7,885.8 930.3,890.0 C929.9,894.2 929.7,900.5 929.5,905.0 C929.3,909.5 929.5,911.4 929.0,916.7 C928.5,922.0 927.4,930.0 926.3,936.7 C925.2,943.4 922.5,951.6 922.3,956.7 C922.1,961.8 924.1,964.1 925.0,967.3 C925.9,970.5 926.8,973.3 927.5,976.0 C928.2,978.7 928.6,981.1 929.0,983.3 C929.4,985.5 929.2,987.6 930.0,989.0 C930.8,990.4 931.5,991.1 934.0,991.5 C936.5,991.9 942.4,991.9 945.0,991.5 C947.6,991.1 948.7,990.4 949.5,989.0 C950.3,987.6 950.3,985.5 949.7,983.3 C949.1,981.1 947.5,978.7 946.0,976.0 C944.5,973.3 942.0,970.5 941.0,967.3 C940.0,964.1 939.2,961.8 939.7,956.7 C940.2,951.6 943.2,943.4 944.3,936.7 C945.4,930.0 945.9,922.0 946.3,916.7 C946.7,911.4 946.7,909.5 946.8,905.0 C946.9,900.5 947.2,894.2 947.0,890.0 C946.8,885.8 946.0,883.3 945.5,880.0 C945.0,876.7 944.2,873.3 944.3,870.0 C944.4,866.7 945.9,865.0 946.2,860.0 C946.5,855.0 946.1,845.8 946.0,840.0 C945.9,834.2 945.7,830.0 945.8,825.0 C945.9,820.0 946.5,815.4 946.5,810.0 C946.5,804.6 946.0,796.6 945.8,792.4 C945.5,788.2 945.3,787.6 945.0,785.0 C944.7,782.4 944.1,779.8 944.0,777.0 C943.9,774.2 944.1,770.8 944.4,768.0 C944.6,765.2 944.8,764.2 945.5,760.0 C946.2,755.8 947.8,749.4 948.7,742.7 C949.6,736.0 950.3,727.1 951.0,720.0 C951.7,712.9 952.2,706.0 953.0,700.0 C953.8,694.0 958.4,686.7 956.0,684.0 C953.6,681.3 942.0,681.3 938.5,684.0Z" fill="url(#c1g)"/>
<path d="M935.6,606.2 C940.2,606.0 946.8,606.3 950.5,608.9 C954.2,611.5 956.2,617.4 958.0,621.7 C959.8,626.1 960.0,630.5 961.0,635.0 C962.0,639.5 963.7,642.6 963.9,648.4 C964.1,654.2 963.4,664.4 962.3,669.8 C961.1,675.1 959.4,677.5 957.0,680.5 C954.6,683.5 951.2,686.8 948.0,688.0 C944.8,689.2 941.0,688.6 938.0,688.0 C935.0,687.4 933.2,685.8 930.2,684.5 C927.2,683.2 922.6,682.4 920.0,680.0 C917.4,677.6 916.0,674.0 914.5,670.0 C913.0,666.0 912.0,660.0 911.0,656.0 C910.0,652.0 908.8,650.0 908.5,646.0 C908.2,642.0 908.9,636.4 909.5,632.0 C910.1,627.6 909.9,623.3 912.1,619.6 C914.3,615.9 918.9,612.2 922.8,610.0 C926.7,607.8 931.0,606.4 935.6,606.2Z" fill="url(#h1g)"/>
<clipPath id="h1clip"><path d="M935.6,606.2 C940.2,606.0 946.8,606.3 950.5,608.9 C954.2,611.5 956.2,617.4 958.0,621.7 C959.8,626.1 960.0,630.5 961.0,635.0 C962.0,639.5 963.7,642.6 963.9,648.4 C964.1,654.2 963.4,664.4 962.3,669.8 C961.1,675.1 959.4,677.5 957.0,680.5 C954.6,683.5 951.2,686.8 948.0,688.0 C944.8,689.2 941.0,688.6 938.0,688.0 C935.0,687.4 933.2,685.8 930.2,684.5 C927.2,683.2 922.6,682.4 920.0,680.0 C917.4,677.6 916.0,674.0 914.5,670.0 C913.0,666.0 912.0,660.0 911.0,656.0 C910.0,652.0 908.8,650.0 908.5,646.0 C908.2,642.0 908.9,636.4 909.5,632.0 C910.1,627.6 909.9,623.3 912.1,619.6 C914.3,615.9 918.9,612.2 922.8,610.0 C926.7,607.8 931.0,606.4 935.6,606.2Z"/></clipPath>
<g clip-path="url(#h1clip)"><g filter="url(#soft3)">
<rect x="905" y="600" width="62" height="92" fill="#6e5630"/>
<ellipse cx="937" cy="620" rx="19" ry="12.5" fill="#9a7f4c"/>
<ellipse cx="921" cy="646" rx="9.5" ry="9.5" fill="#8e7446"/>
<ellipse cx="926" cy="670" rx="9.5" ry="11.5" fill="#a08654"/>
<ellipse cx="956" cy="662" rx="7" ry="19" fill="#846a3c"/>
<ellipse cx="941" cy="660" rx="5" ry="21" fill="#b49c66"/>
</g>
<path d="M909,639 C920,635 930,633 937,635 C943,639 946,646 949,652" stroke="#3e2e16" stroke-width="2.4" fill="none" opacity="0.7" filter="url(#soft)"/>
<path d="M910,657 C918,655 926,655 934,658" stroke="#3e2e16" stroke-width="2" fill="none" opacity="0.6" filter="url(#soft)"/>
<path d="M948,645 C950,655 950,668 947,684" stroke="#3e2e16" stroke-width="2.2" fill="none" opacity="0.6" filter="url(#soft)"/>
</g>
<ellipse cx="938.5" cy="642" rx="2.2" ry="3.2" fill="#f0e2bc" opacity="0.8"/>
<ellipse cx="924" cy="660" rx="2.6" ry="2" fill="#ecdcb2" opacity="0.75"/>
<ellipse cx="948.5" cy="613.5" rx="2" ry="2.6" fill="#e8d4a4" opacity="0.75"/>
</g>
<g filter="url(#soft)">
<path d="M1014.0,683.0 C1011.4,684.2 1015.5,686.5 1015.5,690.2 C1015.5,693.9 1014.5,699.8 1014.0,705.0 C1013.5,710.2 1013.5,714.7 1012.8,721.4 C1012.0,728.1 1010.6,737.6 1009.5,745.0 C1008.4,752.4 1007.3,758.4 1006.1,765.9 C1004.9,773.4 1003.6,782.6 1002.5,790.0 C1001.4,797.4 1000.4,805.4 999.5,810.4 C998.6,815.4 997.8,816.3 997.0,820.0 C996.2,823.7 995.3,828.9 995.0,832.7 C994.7,836.5 994.5,840.0 995.0,843.0 C995.5,846.0 996.5,849.2 998.0,850.5 C999.5,851.8 1002.5,851.8 1004.0,850.5 C1005.5,849.2 1006.3,846.0 1007.0,843.0 C1007.7,840.0 1008.3,836.5 1008.4,832.7 C1008.5,828.9 1008.0,823.7 1007.8,820.0 C1007.6,816.3 1006.8,815.4 1007.3,810.4 C1007.8,805.4 1009.5,797.4 1011.0,790.0 C1012.5,782.6 1014.7,773.4 1016.2,765.9 C1017.7,758.4 1018.7,752.4 1020.0,745.0 C1021.3,737.6 1023.1,728.1 1024.0,721.4 C1024.9,714.7 1025.0,710.2 1025.5,705.0 C1026.0,699.8 1026.4,693.9 1027.3,690.2 C1028.2,686.5 1033.2,684.2 1031.0,683.0 C1028.8,681.8 1016.6,681.8 1014.0,683.0Z" fill="url(#c2g)"/>
<path d="M1017,695 C1015,720 1011,745 1007,770 C1004,785 1002,795 1001,805" stroke="#a08888" stroke-width="2.2" fill="none" opacity="0.45" filter="url(#soft)"/>
<path d="M1016.0,622.0 C1018.7,621.8 1023.0,622.0 1026.0,623.0 C1029.0,624.0 1031.9,625.5 1034.0,628.0 C1036.1,630.5 1037.8,634.0 1038.5,638.0 C1039.2,642.0 1038.6,647.0 1038.0,652.0 C1037.4,657.0 1036.4,663.2 1035.1,667.9 C1033.8,672.6 1031.7,676.9 1030.0,680.0 C1028.3,683.1 1027.7,685.3 1025.0,686.5 C1022.3,687.7 1017.5,687.9 1014.0,687.0 C1010.5,686.1 1006.6,684.2 1004.0,681.0 C1001.4,677.8 999.4,672.4 998.4,668.0 C997.4,663.6 997.6,659.2 997.8,654.5 C998.0,649.8 998.5,644.1 999.5,640.0 C1000.5,635.9 1002.2,632.7 1004.0,630.0 C1005.8,627.3 1008.0,625.3 1010.0,624.0 C1012.0,622.7 1013.3,622.2 1016.0,622.0Z" fill="url(#h2g)"/>
<path d="M1022,640 C1028,632 1034,636 1034,648 C1032,660 1026,668 1022,666 C1020,656 1020,648 1022,640Z" fill="#3a2c20" opacity="0.7"/>
<ellipse cx="1021" cy="633" rx="1.5" ry="1.5" fill="#e8e0d0" opacity="0.8"/>
<ellipse cx="1009" cy="650" rx="1.6" ry="1.6" fill="#d8d0c0" opacity="0.7"/>
<ellipse cx="1023" cy="676" rx="1.4" ry="1.4" fill="#c8c0b0" opacity="0.6"/>
</g>
<g filter="url(#soft)">
<path d="M1098.2,640.0 C1095.6,642.5 1097.5,649.7 1097.2,655.0 C1097.0,660.3 1096.9,666.9 1096.7,672.0 C1096.5,677.1 1096.4,680.8 1096.2,685.5 C1096.0,690.2 1095.9,694.2 1095.7,700.0 C1095.5,705.8 1095.4,712.9 1095.2,720.0 C1095.0,727.1 1095.2,734.2 1094.8,742.5 C1094.4,750.8 1093.4,760.5 1092.7,770.0 C1092.0,779.5 1091.3,789.5 1090.6,799.5 C1089.8,809.5 1088.9,820.5 1088.2,830.0 C1087.5,839.5 1087.0,848.3 1086.2,856.6 C1085.4,864.9 1084.1,872.9 1083.2,880.0 C1082.3,887.1 1081.2,894.8 1080.6,899.3 C1080.0,903.8 1079.3,904.6 1079.4,907.0 C1079.5,909.4 1078.9,912.5 1081.2,913.6 C1083.5,914.7 1091.0,914.7 1093.3,913.6 C1095.6,912.5 1094.5,909.4 1094.8,907.0 C1095.1,904.6 1094.6,903.8 1095.0,899.3 C1095.4,894.8 1096.6,887.1 1097.3,880.0 C1098.0,872.9 1098.6,864.9 1099.3,856.6 C1100.0,848.3 1100.6,839.5 1101.3,830.0 C1102.0,820.5 1102.4,809.5 1103.6,799.5 C1104.8,789.5 1106.9,779.5 1108.3,770.0 C1109.7,760.5 1111.4,750.8 1112.1,742.5 C1112.8,734.2 1112.5,727.1 1112.6,720.0 C1112.7,712.9 1112.6,705.8 1112.8,700.0 C1113.0,694.2 1113.2,690.2 1113.5,685.5 C1113.8,680.8 1114.6,677.1 1114.8,672.0 C1115.0,666.9 1115.1,660.3 1114.8,655.0 C1114.5,649.7 1115.6,642.5 1112.8,640.0 C1110.0,637.5 1100.8,637.5 1098.2,640.0Z" fill="url(#c3g)"/>
<path d="M1100.0,611.2 C1103.3,611.5 1107.6,611.9 1110.0,614.0 C1112.4,616.1 1113.9,620.3 1114.6,624.0 C1115.3,627.7 1114.8,632.5 1114.0,636.0 C1113.2,639.5 1112.3,642.7 1110.0,645.0 C1107.7,647.3 1102.4,647.2 1100.0,650.0 C1097.6,652.8 1097.4,658.3 1095.6,662.0 C1093.8,665.7 1091.1,669.9 1089.0,672.0 C1086.9,674.1 1085.0,675.3 1082.8,674.5 C1080.6,673.7 1077.7,671.1 1076.0,667.0 C1074.3,662.9 1073.0,655.8 1072.6,650.0 C1072.2,644.2 1072.3,637.2 1073.5,632.0 C1074.7,626.8 1077.2,622.2 1080.0,619.0 C1082.8,615.8 1086.7,613.8 1090.0,612.5 C1093.3,611.2 1096.7,611.0 1100.0,611.2Z" fill="url(#h3g)"/>
<path d="M1076,632 C1080,620 1088,618 1092,628 C1094,640 1090,656 1084,664 C1078,660 1075,646 1076,632Z" fill="#a8887c" opacity="0.6"/>
<path d="M1090,630 C1094,626 1098,634 1096,646 C1092,650 1088,642 1090,630Z" fill="#3a2a1c" opacity="0.55"/>
<ellipse cx="1104" cy="620" rx="2.4" ry="2" fill="#c8b888" opacity="0.6"/>
</g>
</g>
<line x1="900.00" y1="1033.50" x2="952.00" y2="1033.50" stroke="#000" stroke-width="2.6" stroke-linecap="butt"/>
<line x1="987.00" y1="1033.50" x2="1039.00" y2="1033.50" stroke="#000" stroke-width="2.6" stroke-linecap="butt"/>
<line x1="1059.60" y1="1033.50" x2="1118.00" y2="1033.50" stroke="#000" stroke-width="2.6" stroke-linecap="butt"/>
<text x="827.10" y="1075.60" font-size="37.5" fill="#000">Control</text>
<text x="970.22" y="1075.60" font-size="37.5" fill="#000">DSS</text>
<text x="1059.22" y="1075.60" font-size="37.5" fill="#000">DSS</text>
<text x="1060.47" y="1119.30" font-size="37.5" fill="#000">+MNS</text>
<text transform="translate(1175.00,549.90) scale(0.96,1)" x="0" y="0" font-size="42" font-weight="bold" fill="#1c1a0e">E</text>
<rect x="1315" y="633.3" width="79.7" height="375.9" fill="#000"/>
<rect x="1434.7" y="767.2" width="79.9" height="242.0" fill="#22368a"/>
<rect x="1554.5" y="676.3" width="79.7" height="332.9" fill="#c84446"/>
<line x1="1354.80" y1="625.30" x2="1354.80" y2="634.00" stroke="#000" stroke-width="2.4" stroke-linecap="butt"/>
<line x1="1334.80" y1="625.30" x2="1374.80" y2="625.30" stroke="#000" stroke-width="2.4" stroke-linecap="butt"/>
<line x1="1474.60" y1="753.40" x2="1474.60" y2="768.00" stroke="#22368a" stroke-width="2.4" stroke-linecap="butt"/>
<line x1="1454.60" y1="753.40" x2="1494.60" y2="753.40" stroke="#22368a" stroke-width="2.4" stroke-linecap="butt"/>
<line x1="1594.40" y1="662.30" x2="1594.40" y2="677.00" stroke="#c84446" stroke-width="2.4" stroke-linecap="butt"/>
<line x1="1574.40" y1="662.30" x2="1614.40" y2="662.30" stroke="#c84446" stroke-width="2.4" stroke-linecap="butt"/>
<line x1="1275.30" y1="582.60" x2="1275.30" y2="1011.00" stroke="#000" stroke-width="3" stroke-linecap="butt"/>
<line x1="1257.40" y1="1009.40" x2="1706.50" y2="1009.40" stroke="#000" stroke-width="3" stroke-linecap="butt"/>
<line x1="1257.40" y1="584.12" x2="1275.30" y2="584.12" stroke="#000" stroke-width="3" stroke-linecap="butt"/>
<line x1="1257.40" y1="690.44" x2="1275.30" y2="690.44" stroke="#000" stroke-width="3" stroke-linecap="butt"/>
<line x1="1257.40" y1="796.76" x2="1275.30" y2="796.76" stroke="#000" stroke-width="3" stroke-linecap="butt"/>
<line x1="1257.40" y1="903.08" x2="1275.30" y2="903.08" stroke="#000" stroke-width="3" stroke-linecap="butt"/>
<line x1="1354.80" y1="1009.40" x2="1354.80" y2="1027.50" stroke="#000" stroke-width="3" stroke-linecap="butt"/>
<line x1="1474.60" y1="1009.40" x2="1474.60" y2="1027.50" stroke="#000" stroke-width="3" stroke-linecap="butt"/>
<line x1="1594.40" y1="1009.40" x2="1594.40" y2="1027.50" stroke="#000" stroke-width="3" stroke-linecap="butt"/>
<text transform="translate(1234.60,596.32) scale(0.955,1)" x="0" y="0" font-size="29.5" font-weight="bold" fill="#000">8</text>
<text transform="translate(1234.75,702.64) scale(0.955,1)" x="0" y="0" font-size="29.5" font-weight="bold" fill="#000">6</text>
<text transform="translate(1233.88,808.96) scale(0.955,1)" x="0" y="0" font-size="29.5" font-weight="bold" fill="#000">4</text>
<text transform="translate(1234.86,915.28) scale(0.955,1)" x="0" y="0" font-size="29.5" font-weight="bold" fill="#000">2</text>
<text transform="translate(1234.89,1021.60) scale(0.955,1)" x="0" y="0" font-size="29.5" font-weight="bold" fill="#000">0</text>
<text transform="translate(1205.70,1042.80) rotate(-90)" x="-1.90" y="0" font-size="37.5" fill="#000">Change in colon length(cm)</text>
<path d="M1480,640.5 L1594,638.5" stroke="#000" stroke-width="3.2" fill="none"/>
<text x="1519.92" y="639.50" font-size="32" font-weight="bold" fill="#000" letter-spacing="2">**</text>
<text x="1211.92" y="1074.60" font-size="37.5" fill="#000">DSS</text>
<text x="1212.82" y="1118.70" font-size="37.5" fill="#000">MNS</text>
<text x="1350.76" y="1072.96" font-size="37.5" fill="#000">-</text>
<text x="1466.36" y="1073.27" font-size="37.5" fill="#000">+</text>
<text x="1585.26" y="1073.27" font-size="37.5" fill="#000">+</text>
<text x="1350.76" y="1119.96" font-size="37.5" fill="#000">-</text>
<text x="1474.56" y="1119.96" font-size="37.5" fill="#000">-</text>
<text x="1585.26" y="1120.47" font-size="37.5" fill="#000">+</text>
</svg>
</body></html>
